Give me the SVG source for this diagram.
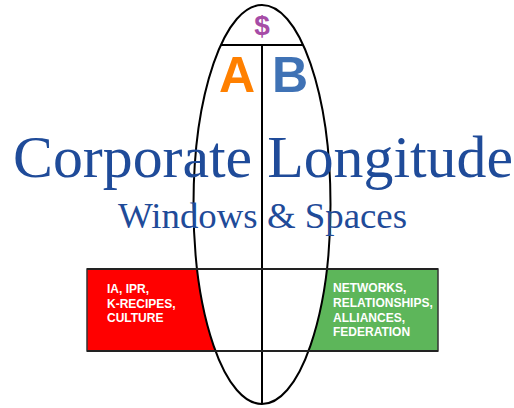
<svg xmlns="http://www.w3.org/2000/svg" width="514" height="408" viewBox="0 0 514 408">
<style>
.ln{stroke:#000;stroke-width:2;fill:none}
.box{font-family:"Liberation Sans",Arial,sans-serif;font-weight:bold;font-size:12px;fill:#fff}
.title{font-family:"Liberation Serif","Times New Roman",serif;fill:#1F4B99}
.big{font-family:"Liberation Sans",Arial,sans-serif;font-weight:bold;text-anchor:middle}
</style>
<rect width="514" height="408" fill="#fff"/>
<g id="left-box"><rect x="87" y="269" width="175" height="82" fill="#FF0000" stroke="#333" stroke-width="1.5"/></g>
<g id="right-box"><rect x="262" y="269" width="176" height="82" fill="#5DB65A" stroke="#333" stroke-width="1.5"/></g>
<g id="oval"><ellipse cx="262" cy="204.5" rx="68.5" ry="199.5" fill="#fff" stroke="#000" stroke-width="2"/></g>
<g id="connectors">
<line class="ln" x1="221" y1="45" x2="303" y2="45"/>
<line class="ln" x1="262" y1="45" x2="262" y2="404" stroke-width="2.5"/>
<line x1="87" y1="269" x2="438" y2="269" stroke="#222" stroke-width="1.8"/>
<line x1="87" y1="351" x2="438" y2="351" stroke="#222" stroke-width="1.8"/>
</g>
<g id="dollar"><text class="big" x="262" y="35" font-size="28" fill="#A64CA6">$</text></g>
<g id="A"><text class="big" x="237" y="92" font-size="50" fill="#FF8000">A</text></g>
<g id="B"><text class="big" x="290" y="92" font-size="50" fill="#3F72B5">B</text></g>
<g id="title">
<text class="title" x="13" y="177" font-size="60" textLength="500" lengthAdjust="spacingAndGlyphs">Corporate Longitude</text>
<text class="title" x="118" y="228" font-size="36" textLength="289" lengthAdjust="spacingAndGlyphs">Windows &amp; Spaces</text>
</g>
<g id="left-text">
<text class="box" x="107" y="293">IA, IPR,</text>
<text class="box" x="107" y="308">K-RECIPES,</text>
<text class="box" x="107" y="322">CULTURE</text>
</g>
<g id="right-text">
<text class="box" x="333" y="292">NETWORKS,</text>
<text class="box" x="333" y="307">RELATIONSHIPS,</text>
<text class="box" x="333" y="322">ALLIANCES,</text>
<text class="box" x="333" y="336">FEDERATION</text>
</g>
</svg>
